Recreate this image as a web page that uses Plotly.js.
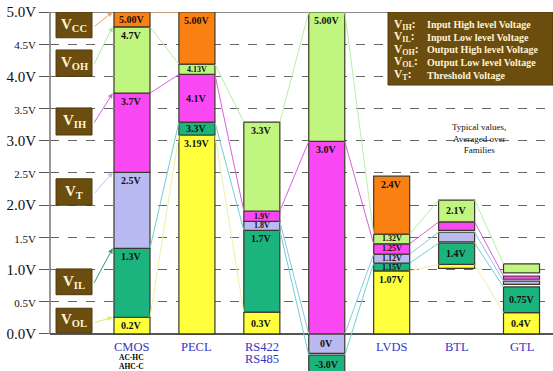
<!DOCTYPE html>
<html><head><meta charset="utf-8">
<script src="https://cdn.plot.ly/plotly-3.0.1.min.js"></script>
<style>html,body{margin:0;padding:0;background:#fff}#chart{width:553px;height:371px}</style>
</head><body><div id="chart"></div>
<script>
// ---------- data ----------
const categories = ["CMOS", "PECL", "RS422<br>RS485", "", "LVDS", "BTL", "GTL"];
const subLabels = ["AC-HC<br>AHC-C", "", "", "", "", "", ""];

const yellowLow   = [0,    0,    0,    null,  0,    1.02, 0];
const yellowHigh  = [0.26, 3.09, 0.34, null,  0.98, 1.08, 0.33];
const yellowText  = ["0.2V", "3.19V", "0.3V", "", "1.07V", "", "0.4V"];

const greenLow    = [0.26, 3.09, 0.34, -0.62, 0.98, 1.08, 0.33];
const greenHigh   = [1.33, 3.29, 1.61, -0.33, 1.10, 1.41, 0.73];
const greenText   = ["1.3V", "3.3V", "1.7V", "-3.0V", "1.15V", "1.4V", "0.75V"];

const lavenderLow  = [1.33, null, 1.61, -0.30, 1.10, 1.43, 0.77];
const lavenderHigh = [2.51, null, 1.75, 0,     1.24, 1.58, 0.82];
const lavenderText = ["2.5V", "", "1.8V", "0V", "1.12V", "", ""];

const magentaLow  = [2.51, 3.29, 1.75, 0,    1.24, 1.61, 0.85];
const magentaHigh = [3.74, 4.03, 1.91, 2.99, 1.40, 1.74, 0.90];
const magentaText = ["3.7V", "4.1V", "1.9V", "3.0V", "1.25V", "", ""];

const lightLow    = [3.74, 4.03, 1.91, 2.99, 1.40, 1.74, 0.95];
const lightHigh   = [4.77, 4.19, 3.29, 5.00, 1.55, 2.08, 1.09];
const lightText   = ["4.7V", "4.13V", "3.3V", "5.00V", "1.32V", "2.1V", ""];

const orangeLow   = [4.77, 4.19, null, null, 1.55, null, null];
const orangeHigh  = [5.00, 5.00, null, null, 2.45, null, null];
const orangeText  = ["5.00V", "5.00V", "", "", "2.4V", "", ""];

const yTickVals = [0, 0.5, 1, 1.5, 2, 2.5, 3, 3.5, 4, 4.5, 5];
const yTickText = ["0.0V", "0.5V", "1.0V", "1.5V", "2.0V", "2.5V", "3.0V", "3.5V", "4.0V", "4.5V", "5.0V"];

const boxSymbols = ["CC", "OH", "IH", "T", "IL", "OL"];
const boxTargets = ["orange", "light", "magenta", "lavender", "green", "yellow"];

const legendSymbols = ["IH", "IL", "OH", "OL", "T"];
const legendDescriptions = ["Input High level Voltage", "Input Low level Voltage",
  "Output High level Voltage", "Output Low level Voltage", "Threshold Voltage"];
const noteText = "Typical values,<br>Averaged over<br>Families";

// ---------- styling ----------
const FONT = "Liberation Serif, Times New Roman, serif";
const BAR_W = 0.555;
const series = [
  {key: "yellow",   low: yellowLow,   high: yellowHigh,   text: yellowText,   fill: "#ffff3c", link: "#f0f0a0", arrow: "#e8e860"},
  {key: "green",    low: greenLow,    high: greenHigh,    text: greenText,    fill: "#1bb47f", link: "#6fd0cc", arrow: "#2aa070"},
  {key: "lavender", low: lavenderLow, high: lavenderHigh, text: lavenderText, fill: "#babaf2", link: "#8cc4e8", arrow: "#c4c4f0"},
  {key: "magenta",  low: magentaLow,  high: magentaHigh,  text: magentaText,  fill: "#fa48f5", link: "#d860e0", arrow: "#e060e0"},
  {key: "light",    low: lightLow,    high: lightHigh,    text: lightText,    fill: "#c0f580", link: "#b8eea8", arrow: "#a8e8a0"},
  {key: "orange",   low: orangeLow,   high: orangeHigh,   text: orangeText,   fill: "#fb8012", link: "#f8b070", arrow: "#f0a060"}
];
const xIdx = categories.map((c, i) => i);

const traces = [];
const annotations = [];
const shapes = [];

// connecting lines
series.forEach(s => {
  const xs = [], ys = [];
  for (let i = 0; i < xIdx.length - 1; i++) {
    if (s.high[i] == null || s.high[i + 1] == null) continue;
    xs.push(xIdx[i] + BAR_W / 2, xIdx[i + 1] - BAR_W / 2, null);
    ys.push(s.high[i], s.high[i + 1], null);
  }
  traces.push({type: "scatter", mode: "lines", x: xs, y: ys, line: {color: s.link, width: 1},
    hoverinfo: "skip", showlegend: false, cliponaxis: false});
});

// bars
series.forEach(s => {
  traces.push({
    type: "bar", x: xIdx,
    base: s.low,
    y: s.high.map((h, i) => h == null ? null : h - s.low[i]),
    width: BAR_W,
    marker: {color: s.fill, line: {color: "#3a3a2a", width: 1.2}},
    hoverinfo: "skip", showlegend: false
  });
  s.text.forEach((t, i) => {
    if (!t) return;
    const h = s.high[i] - s.low[i];
    const center = h < 0.78;
    annotations.push({
      x: xIdx[i], y: center ? (s.low[i] + s.high[i]) / 2 : s.high[i],
      xref: "x", yref: "y", yanchor: center ? "middle" : "top", yshift: center ? 0 : -2,
      text: "<b>" + t + "</b>", showarrow: false, borderpad: 0,
      font: {family: FONT, size: h < 0.2 ? 8 : 10, color: "#111"}
    });
  });
});

// category labels
categories.forEach((c, i) => {
  c.split("<br>").forEach((line, j) => {
    if (!line) return;
    annotations.push({x: xIdx[i], y: 0, xref: "x", yref: "y", yanchor: "middle", yshift: -13 - 12 * j,
      text: line, showarrow: false, borderpad: 0, font: {family: FONT, size: 12.5, color: "#3434c4"}});
  });
  subLabels[i].split("<br>").forEach((line, j) => {
    if (!line) return;
    annotations.push({x: xIdx[i], y: 0, xref: "x", yref: "y", yanchor: "middle", yshift: -24 - 9 * j,
      text: "<b>" + line + "</b>", showarrow: false, borderpad: 0, font: {family: FONT, size: 7.5, color: "#000"}});
  });
});

// left brown boxes with arrows
const boxY = [[4.60, 5.00], [4.00, 4.41], [3.09, 3.51], [2.00, 2.41], [0.61, 1.01], [0.02, 0.40]];
const BOX_X0 = -1.17, BOX_X1 = -0.616;
boxSymbols.forEach((sym, k) => {
  const [y0, y1] = boxY[k];
  shapes.push({type: "rect", xref: "x", yref: "y", x0: BOX_X0, x1: BOX_X1, y0: y0, y1: y1,
    fillcolor: "#6b4e0f", line: {color: "#4e3808", width: 1}, layer: "above"});
  annotations.push({x: (BOX_X0 + BOX_X1) / 2, y: (y0 + y1) / 2, xref: "x", yref: "y",
    text: "<b>V<sub>" + sym + "</sub></b>", showarrow: false,
    font: {family: FONT, size: 15, color: "#fff3d6"}});
  const s = series.find(q => q.key === boxTargets[k]);
  annotations.push({x: xIdx[0] - BAR_W / 2 - 0.02, y: s.high[0], xref: "x", yref: "y",
    ax: BOX_X1 + 0.02, ay: (y0 + y1) / 2 - 0.04, axref: "x", ayref: "y",
    showarrow: true, arrowhead: 2, arrowsize: 1, arrowwidth: 1, arrowcolor: s.arrow, text: ""});
});

// legend box (top right)
shapes.push({type: "rect", xref: "paper", yref: "y", x0: 0.672, x1: 1.0, y0: 3.866, y1: 5.0,
  fillcolor: "#6b4e0f", line: {color: "#4e3808", width: 1}, layer: "above"});
const legendY = [4.80, 4.61, 4.41, 4.22, 4.02];
legendSymbols.forEach((sym, k) => {
  annotations.push({x: 0.681, y: legendY[k], xref: "paper", yref: "y", xanchor: "left", yanchor: "middle",
    text: "<b>V<sub>" + sym + "</sub>:</b>", showarrow: false, borderpad: 0, font: {family: FONT, size: 11.5, color: "#fff3d6"}});
  annotations.push({x: 0.7475, y: legendY[k], xref: "paper", yref: "y", xanchor: "left", yanchor: "middle",
    text: "<b>" + legendDescriptions[k] + "</b>", showarrow: false, borderpad: 0, font: {family: FONT, size: 10, color: "#fff3d6"}});
});

annotations.push({x: 0.9105, y: 3.04, xref: "paper", yref: "y", text: noteText, showarrow: false,
  font: {family: FONT, size: 9, color: "#111"}, align: "center"});

// frame lines
shapes.push({type: "line", xref: "paper", yref: "y", x0: 0, x1: 1, y0: 5, y1: 5, line: {color: "#666", width: 1.5}, layer: "below"});
shapes.push({type: "line", xref: "paper", yref: "y", x0: 0, x1: 0, y0: 0, y1: 5, line: {color: "#777", width: 1.5}, layer: "below"});

const layout = {
  width: 553, height: 371,
  margin: {l: 50, r: 0, t: 12, b: 0},
  paper_bgcolor: "#fff", plot_bgcolor: "#fff",
  barmode: "overlay", showlegend: false,
  xaxis: {range: [-1.263, 6.485], showgrid: false, zeroline: false, showticklabels: false,
    ticks: "", showline: false, fixedrange: true},
  yaxis: {range: [-0.575, 5.0], tickvals: yTickVals,
    ticktext: yTickText.map((t, i) => i % 2 === 1 ? '<span style="font-size:11px">' + t + '</span>' : t),
    ticks: "outside", ticklen: 10, tickcolor: "#555", tickwidth: 1,
    showgrid: true, gridcolor: "#666", griddash: "dash", gridwidth: 1,
    zeroline: true, zerolinecolor: "#555", zerolinewidth: 1.5, showline: false, automargin: false,
    tickfont: {family: FONT, size: 15, color: "#111"}, fixedrange: true},
  shapes: shapes, annotations: annotations,
  font: {family: FONT}
};

Plotly.newPlot("chart", traces, layout, {displayModeBar: false, staticPlot: true});
</script>
</body></html>
